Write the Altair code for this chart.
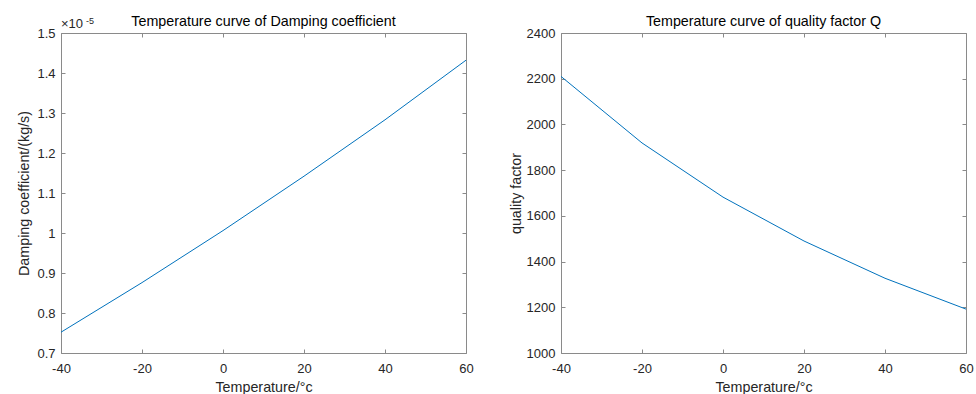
import altair as alt
import pandas as pd

# ---- data ----
temps = [-40, -20, 0, 20, 40, 60]
damping = [0.752, 0.876, 1.006, 1.142, 1.283, 1.432]   # x 1e-5 kg/s
quality = [2210, 1919, 1682, 1490, 1327, 1192]

x_ticks = [-40, -20, 0, 20, 40, 60]
damp_ticks = [0.7, 0.8, 0.9, 1.0, 1.1, 1.2, 1.3, 1.4, 1.5]
q_ticks = [1000, 1200, 1400, 1600, 1800, 2000, 2200, 2400]

left_title = ["Temperature curve of Damping coefficient"]
right_title = ["Temperature curve of quality factor Q"]
x_label = "Temperature/°c"
damp_label = "Damping coefficient/(kg/s)"
q_label = "quality factor"
exp_base = ["×10"]
exp_power = ["-5"]

W, H = 405, 320
LINE = "#0072BD"
BOX = "#8a8a8a"
TXT = "#262626"
FONT = "Liberation Sans"
PLAIN = "'' + datum.value"   # plain number text with an ASCII hyphen minus

df_d = pd.DataFrame({"T": temps, "v": damping})
df_q = pd.DataFrame({"T": temps, "v": quality})


def text_layer(values, size, x, y, align="left", color=TXT):
    return alt.Chart(pd.DataFrame({"t": values})).mark_text(
        align=align, baseline="alphabetic", fontSize=size, font=FONT, color=color
    ).encode(text="t:N", x=alt.value(x), y=alt.value(y))


def panel(df, ydomain, yticks, ytitle, title, ytitle_x, extra=None):
    xs = alt.Scale(domain=[-40, 60], nice=False, zero=False)
    ys = alt.Scale(domain=ydomain, nice=False, zero=False)

    main = alt.Chart(df).mark_line(color=LINE, strokeWidth=1).encode(
        x=alt.X("T:Q", scale=xs, axis=alt.Axis(
            orient="bottom", values=x_ticks, labelExpr=PLAIN, title=x_label, grid=False,
            domain=False, ticks=False, tickSize=0, labelPadding=19,
            labelBaseline="alphabetic", titleX=W / 2, titleY=38,
            titleBaseline="alphabetic", titleAlign="center", labelFlush=False)),
        y=alt.Y("v:Q", scale=ys, axis=alt.Axis(
            orient="left", values=yticks, labelExpr=PLAIN, title=ytitle, grid=False,
            domain=False, ticks=False, tickSize=0, labelPadding=6, labelFlush=False,
            titleX=ytitle_x, titleY=H / 2, titleAngle=270,
            titleBaseline="alphabetic", titleAlign="center")),
    )
    # inward ticks on the bottom and left edges (axes flipped and pulled inside)
    t1 = alt.Chart(df).mark_line(opacity=0).encode(
        x=alt.X("T:Q", scale=xs, axis=alt.Axis(
            orient="top", offset=-H, values=x_ticks, labels=False, title=None,
            grid=False, domain=False, tickSize=4, tickColor=BOX)),
        y=alt.Y("v:Q", scale=ys, axis=alt.Axis(
            orient="right", offset=-W, values=yticks, labels=False, title=None,
            grid=False, domain=False, tickSize=4, tickColor=BOX)),
    )
    # inward ticks on the top and right edges
    t2 = alt.Chart(df).mark_line(opacity=0).encode(
        x=alt.X("T:Q", scale=xs, axis=alt.Axis(
            orient="bottom", offset=-H, values=x_ticks, labels=False, title=None,
            grid=False, domain=False, tickSize=4, tickColor=BOX)),
        y=alt.Y("v:Q", scale=ys, axis=alt.Axis(
            orient="left", offset=-W, values=yticks, labels=False, title=None,
            grid=False, domain=False, tickSize=4, tickColor=BOX)),
    )
    ttl = text_layer(title, 14.3, W / 2, -7, align="center", color="#000000")
    layers = [main, t1, t2, ttl]
    if extra:
        layers += extra
    return alt.layer(*layers).properties(width=W, height=H)


exp1 = text_layer(exp_base, 13, 0, -5)
exp2 = text_layer(exp_power, 9, 25, -9.5)

left = panel(df_d, [0.7, 1.5], damp_ticks, damp_label, left_title, -32.7, [exp1, exp2])
right = panel(df_q, [1000, 2400], q_ticks, q_label, right_title, -41)

chart = alt.hconcat(left, right, spacing=34).properties(
    padding={"left": 16, "top": 14, "right": 0, "bottom": 0},
    background="white",
).configure_view(
    stroke=BOX, strokeWidth=1
).configure_axis(
    labelFont=FONT, labelFontSize=13, labelColor=TXT,
    titleFont=FONT, titleFontSize=14.3, titleColor=TXT, titleFontWeight="normal",
)

chart.save("out.html", embed_options={"renderer": "svg", "actions": False})
